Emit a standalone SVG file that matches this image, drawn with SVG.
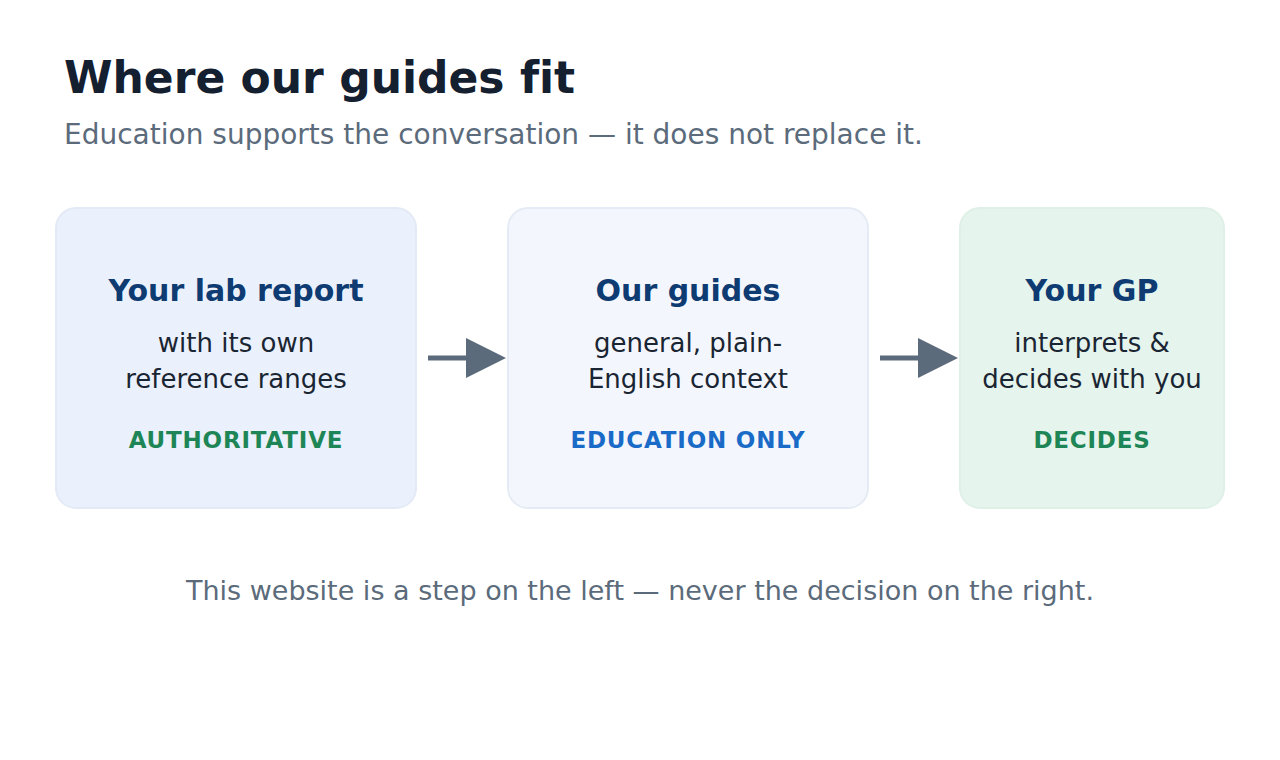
<svg xmlns="http://www.w3.org/2000/svg" width="1280" height="760" viewBox="0 0 1280 760">
<style>
text{font-family:"DejaVu Sans",sans-serif;font-variant-ligatures:none}
.title{font-size:44px;font-weight:bold;fill:#14202f}
.sub{font-size:28px;fill:#5b6b7b}
.foot{font-size:27px;fill:#5b6b7b;text-anchor:middle}
.box{stroke-width:2}
.h{font-size:30px;font-weight:bold;fill:#0e3b72;text-anchor:middle}
.b{font-size:26px;fill:#1a2533;text-anchor:middle}
.tag{font-size:23px;font-weight:bold;text-anchor:middle;letter-spacing:0.8px}
.arrow{stroke:#5b6b7b;stroke-width:5;fill:none}
.head{fill:#5b6b7b}
</style>
<rect width="1280" height="760" fill="#ffffff"/>
<text class="title" x="64" y="93">Where our guides fit</text>
<text class="sub" x="64" y="144">Education supports the conversation — it does not replace it.</text>
<g id="lab">
<rect class="box" x="56" y="208" width="360" height="300" rx="20" fill="#eaf1fc" stroke="#e3eaf5"/>
<text class="h" x="236" y="301">Your lab report</text>
<text class="b" x="236" y="352">with its own</text>
<text class="b" x="236" y="388">reference ranges</text>
<text class="tag" x="236" y="448" fill="#1e8656">AUTHORITATIVE</text>
</g>
<g id="guides">
<rect class="box" x="508" y="208" width="360" height="300" rx="20" fill="#f3f7fd" stroke="#e5ebf4"/>
<text class="h" x="688" y="301">Our guides</text>
<text class="b" x="688" y="352">general, plain-</text>
<text class="b" x="688" y="388">English context</text>
<text class="tag" x="688" y="448" fill="#1a6bc8">EDUCATION ONLY</text>
</g>
<g id="gp">
<rect class="box" x="960" y="208" width="264" height="300" rx="20" fill="#e5f4ec" stroke="#dff0e7"/>
<text class="h" x="1092" y="301">Your GP</text>
<text class="b" x="1092" y="352">interprets &amp;</text>
<text class="b" x="1092" y="388">decides with you</text>
<text class="tag" x="1092" y="448" fill="#1e8656">DECIDES</text>
</g>
<g id="connectors">
<line class="arrow" x1="428" y1="358" x2="468" y2="358"/>
<polygon class="head" points="466,338 506,358 466,378"/>
<line class="arrow" x1="880" y1="358" x2="920" y2="358"/>
<polygon class="head" points="918,338 958,358 918,378"/>
</g>
<text class="foot" x="640" y="600">This website is a step on the left — never the decision on the right.</text>
</svg>
